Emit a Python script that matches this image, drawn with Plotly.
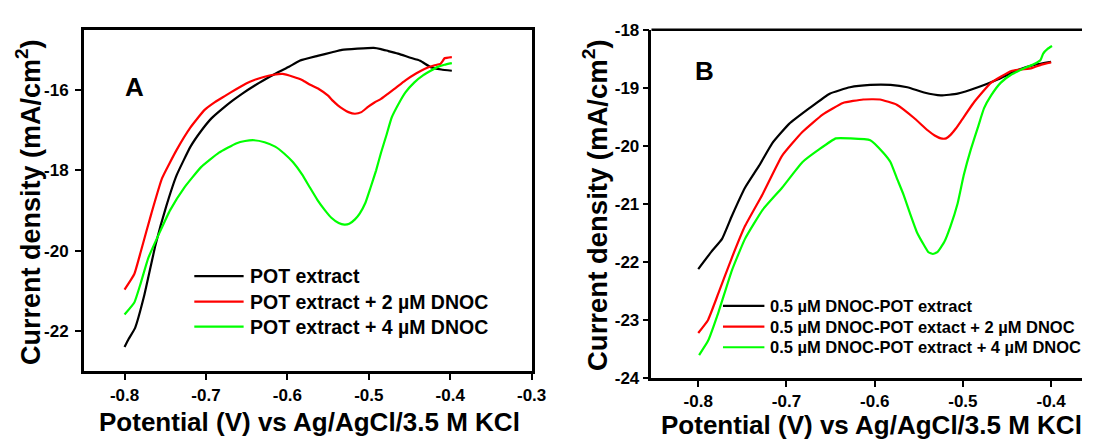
import plotly.graph_objects as go

# ---------------- Panel A: POT extract with DNOC additions ----------------
a_black_x = [-0.800, -0.795, -0.787, -0.776, -0.762, -0.749, -0.736, -0.719, -0.706, -0.693,
             -0.680, -0.667, -0.654, -0.641, -0.626, -0.611, -0.598, -0.585, -0.563, -0.545,
             -0.533, -0.514, -0.494, -0.485, -0.476, -0.463, -0.450, -0.437, -0.424, -0.411, -0.398]
a_black_y = [-22.40, -22.20, -21.92, -21.13, -19.86, -18.91, -18.12, -17.41, -17.02, -16.70,
             -16.47, -16.26, -16.07, -15.90, -15.72, -15.55, -15.42, -15.27, -15.15, -15.06,
             -15.00, -14.97, -14.95, -14.98, -15.03, -15.10, -15.19, -15.27, -15.43, -15.49, -15.52]

a_red_x = [-0.800, -0.788, -0.780, -0.767, -0.754, -0.736, -0.719, -0.702, -0.689, -0.676,
           -0.663, -0.650, -0.639, -0.628, -0.617, -0.606, -0.593, -0.582, -0.572, -0.561,
           -0.550, -0.544, -0.538, -0.531, -0.525, -0.517, -0.509, -0.501, -0.493, -0.485,
           -0.477, -0.469, -0.455, -0.442, -0.431, -0.420, -0.412, -0.409, -0.407, -0.398]
a_red_y = [-20.97, -20.58, -20.02, -19.07, -18.20, -17.49, -16.93, -16.50, -16.30, -16.14,
           -15.98, -15.83, -15.74, -15.67, -15.62, -15.60, -15.67, -15.75, -15.87, -15.98,
           -16.14, -16.27, -16.38, -16.48, -16.55, -16.59, -16.55, -16.42, -16.31, -16.22,
           -16.10, -15.98, -15.76, -15.59, -15.47, -15.39, -15.35, -15.27, -15.21, -15.18]

a_green_x = [-0.800, -0.788, -0.780, -0.771, -0.757, -0.744, -0.727, -0.706, -0.684, -0.663,
             -0.652, -0.641, -0.628, -0.615, -0.604, -0.593, -0.582, -0.572, -0.563, -0.554,
             -0.546, -0.537, -0.530, -0.524, -0.517, -0.511, -0.504, -0.498, -0.491, -0.485,
             -0.478, -0.472, -0.463, -0.455, -0.444, -0.433, -0.424, -0.416, -0.407, -0.398]
a_green_y = [-21.59, -21.29, -20.80, -20.19, -19.55, -18.99, -18.44, -17.92, -17.56, -17.33,
             -17.27, -17.25, -17.30, -17.41, -17.58, -17.80, -18.10, -18.44, -18.74, -18.99,
             -19.18, -19.31, -19.35, -19.33, -19.22, -19.07, -18.80, -18.44, -18.00, -17.56,
             -17.10, -16.69, -16.33, -16.06, -15.81, -15.63, -15.52, -15.43, -15.37, -15.33]

# ---------------- Panel B: 0.5 µM DNOC-POT extract with DNOC additions ----------------
b_black_x = [-0.800, -0.785, -0.773, -0.762, -0.747, -0.731, -0.716, -0.697, -0.674, -0.651,
             -0.628, -0.605, -0.582, -0.563, -0.544, -0.525, -0.506, -0.483, -0.460, -0.437,
             -0.418, -0.400]
b_black_y = [-22.12, -21.82, -21.60, -21.21, -20.72, -20.34, -19.95, -19.62, -19.35, -19.10,
             -18.99, -18.95, -18.95, -18.99, -19.08, -19.13, -19.10, -18.99, -18.85, -18.69,
             -18.60, -18.55]

b_red_x = [-0.800, -0.789, -0.777, -0.762, -0.747, -0.727, -0.705, -0.682, -0.659, -0.636,
           -0.613, -0.594, -0.575, -0.556, -0.540, -0.532, -0.525, -0.519, -0.514, -0.508,
           -0.502, -0.487, -0.468, -0.445, -0.422, -0.411, -0.400]
b_red_y = [-23.22, -23.00, -22.53, -21.93, -21.38, -20.83, -20.17, -19.76, -19.46, -19.26,
           -19.20, -19.20, -19.29, -19.51, -19.73, -19.82, -19.87, -19.87, -19.81, -19.70,
           -19.57, -19.24, -18.91, -18.71, -18.66, -18.60, -18.56]

b_green_x = [-0.799, -0.789, -0.777, -0.762, -0.747, -0.727, -0.705, -0.682, -0.663, -0.644,
             -0.628, -0.605, -0.590, -0.582, -0.575, -0.567, -0.560, -0.552, -0.544, -0.539,
             -0.534, -0.529, -0.521, -0.514, -0.506, -0.499, -0.491, -0.483, -0.476, -0.468,
             -0.457, -0.445, -0.430, -0.418, -0.412, -0.409, -0.404, -0.399]
b_green_y = [-23.60, -23.36, -22.86, -22.15, -21.60, -21.10, -20.72, -20.28, -20.06, -19.87,
             -19.87, -19.90, -20.12, -20.28, -20.55, -20.85, -21.16, -21.49, -21.71, -21.83,
             -21.86, -21.83, -21.65, -21.38, -20.99, -20.50, -20.06, -19.68, -19.35, -19.13,
             -18.91, -18.77, -18.66, -18.58, -18.52, -18.41, -18.33, -18.28]

a_names = ["POT extract", "POT extract + 2 \u00b5M DNOC", "POT extract + 4 \u00b5M DNOC"]
b_names = ["0.5 \u00b5M DNOC-POT extract", "0.5 \u00b5M DNOC-POT extact + 2 \u00b5M DNOC",
           "0.5 \u00b5M DNOC-POT extract + 4 \u00b5M DNOC"]
colors = ["#000000", "#FF0000", "#00FF00"]

a_xticks = [-0.8, -0.7, -0.6, -0.5, -0.4, -0.3]
a_xtext = ["-0.8", "-0.7", "-0.6", "-0.5", "-0.4", "-0.3"]
a_yticks = [-22, -20, -18, -16]
a_ytext = ["-22", "-20", "-18", "-16"]
b_xticks = [-0.8, -0.7, -0.6, -0.5, -0.4]
b_xtext = ["-0.8", "-0.7", "-0.6", "-0.5", "-0.4"]
b_yticks = [-24, -23, -22, -21, -20, -19, -18]
b_ytext = ["-24", "-23", "-22", "-21", "-20", "-19", "-18"]

FONT = "Liberation Sans, Arial, sans-serif"
W, H = 1097, 446

fig = go.Figure()
for xs, ys, name, c in zip([a_black_x, a_red_x, a_green_x], [a_black_y, a_red_y, a_green_y],
                           a_names, colors):
    fig.add_trace(go.Scatter(x=xs, y=ys, name=name, mode="lines", xaxis="x", yaxis="y",
                             line=dict(color=c, width=2.2, shape="spline", smoothing=0.4),
                             showlegend=False))
for xs, ys, name, c in zip([b_black_x, b_red_x, b_green_x], [b_black_y, b_red_y, b_green_y],
                           b_names, colors):
    fig.add_trace(go.Scatter(x=xs, y=ys, name=name, mode="lines", xaxis="x2", yaxis="y2",
                             line=dict(color=c, width=2.2, shape="spline", smoothing=0.4),
                             showlegend=False))

tick_font = dict(family=FONT, size=17, color="#000", weight="bold")
axis_common = dict(showline=True, linecolor="#000", linewidth=2.5, ticks="outside",
                   ticklen=6, tickwidth=2, tickcolor="#000", showgrid=False, zeroline=False,
                   tickfont=tick_font, tickmode="array")

fig.update_layout(
    width=W, height=H, margin=dict(l=0, r=0, t=0, b=0),
    paper_bgcolor="white", plot_bgcolor="white", showlegend=False,
    xaxis=dict(domain=[85 / W, 539 / W], range=[-0.85, -0.3], anchor="y", mirror=True,
               tickvals=a_xticks, ticktext=a_xtext, ticklabelstandoff=1, **axis_common),
    yaxis=dict(domain=[1 - 378.3 / H, 1 - 21.7 / H], range=[-23, -14.5], anchor="x", mirror=True,
               tickvals=a_yticks, ticktext=a_ytext, ticklabelstandoff=3, **axis_common),
    xaxis2=dict(domain=[660.5 / W, 1.0], range=[-0.853, -0.365], anchor="y2",
                tickvals=b_xticks, ticktext=b_xtext, ticklabelstandoff=0, **axis_common),
    yaxis2=dict(domain=[1 - 385.7 / H, 1 - 21.7 / H], range=[-24, -18], anchor="x2",
                tickvals=b_yticks, ticktext=b_ytext, **axis_common),
)

# top border of panel B (its right side runs off the page)
fig.add_shape(type="line", xref="x2 domain", yref="y2 domain", x0=0, x1=1, y0=1, y1=1,
              line=dict(color="#000", width=2.5))


def add_text(text, x, y, size, angle=0, anchor="center"):
    fig.add_annotation(text=text, x=x / W, y=1 - y / H, xref="paper", yref="paper",
                       xanchor=anchor, yanchor="middle", showarrow=False, textangle=angle,
                       font=dict(family=FONT, size=size, color="#000", weight="bold"))


def add_legend(names, x0, x1, rows, size):
    # key: a short coloured line followed by the series name
    for name, c, y in zip(names, colors, rows):
        fig.add_shape(type="line", xref="paper", yref="paper", x0=x0 / W, x1=x1 / W,
                      y0=1 - y / H, y1=1 - y / H, line=dict(color=c, width=2.2))
        add_text(name, x1 + 4, y, size, anchor="left")


add_legend(a_names, 197, 247, [279, 305.7, 331.7], 19.5)
add_legend(b_names, 733, 775, [310, 331.7, 353.3], 16.5)

xtitle = "Potential (V) vs Ag/AgCl/3.5 M KCl"
ytitle = "Current density (mA/cm<sup>2</sup>)"
add_text(xtitle, 314, 431, 26)
add_text(ytitle, 29, 202, 27, -90)
add_text(xtitle, 884, 434, 26)
add_text(ytitle, 604, 205, 27.5, -90)
add_text("A", 136, 81, 26)
add_text("B", 714, 65, 26)

fig.write_html("out.html")
